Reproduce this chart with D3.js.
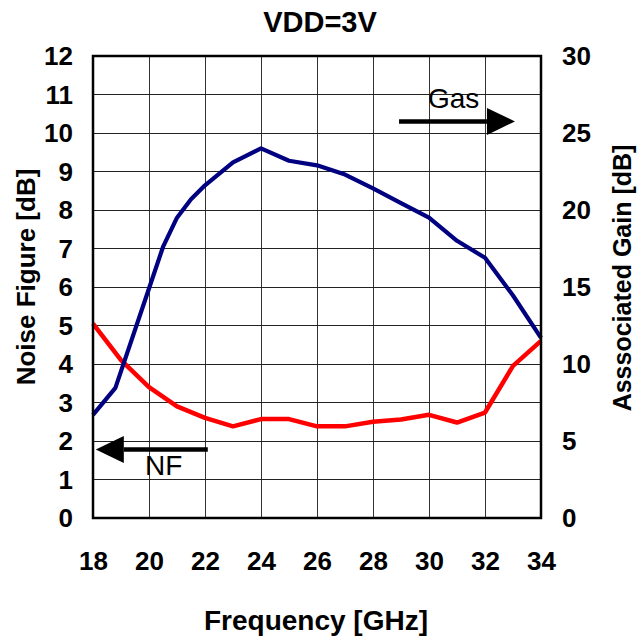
<!DOCTYPE html>
<html>
<head>
<meta charset="utf-8">
<script src="https://cdn.jsdelivr.net/npm/d3@7/dist/d3.min.js"></script>
<style>
  html, body { margin: 0; padding: 0; background: #fff; }
  svg { display: block; font-family: "Liberation Sans", Arial, sans-serif; }
</style>
</head>
<body>
<svg id="chart" width="637" height="641"></svg>
<script>
// ── Data ────────────────────────────────────────────────────────────────
const TITLE = 'VDD=3V';

// Noise figure (left axis, dB)
const NF_FREQ = [18, 19, 20, 21, 22, 23, 24, 25, 26, 27, 28, 29, 30, 31, 32, 33, 34];
const NF_DB   = [5.05, 4.1, 3.4, 2.9, 2.6, 2.38, 2.57, 2.57, 2.38, 2.38, 2.5, 2.56, 2.68, 2.48, 2.74, 3.95, 4.6];

// Associated gain (right axis, dB)
const GA_FREQ = [18, 18.8, 20, 20.5, 21, 21.5, 22, 23, 24, 25, 26, 27, 28, 29, 30, 31, 32, 33, 34];
const GA_DB   = [6.7, 8.45, 14.9, 17.6, 19.5, 20.7, 21.6, 23.1, 24.0, 23.2, 22.9, 22.3, 21.4, 20.45, 19.5, 18.0, 16.9, 14.45, 11.7];

const X_TICKS  = [18, 20, 22, 24, 26, 28, 30, 32, 34];
const YL_TICKS = [0, 1, 2, 3, 4, 5, 6, 7, 8, 9, 10, 11, 12];
const YR_TICKS = [0, 5, 10, 15, 20, 25, 30];

// ── Layout ──────────────────────────────────────────────────────────────
const L = 93, R = 541, T = 56, B = 518;

const svg = d3.select('#chart');

const x  = d3.scaleLinear().domain([18, 34]).range([L, R]);
const yL = d3.scaleLinear().domain([0, 12]).range([B, T]);
const yR = d3.scaleLinear().domain([0, 30]).range([B, T]);

// grid
const grid = svg.append('g').attr('shape-rendering', 'crispEdges');
grid.selectAll('line.v')
  .data(X_TICKS.slice(1, -1))
  .join('line')
  .attr('x1', d => x(d)).attr('x2', d => x(d))
  .attr('y1', T).attr('y2', B)
  .attr('stroke', '#333').attr('stroke-width', 1);
grid.selectAll('line.h')
  .data(YL_TICKS.slice(1, -1))
  .join('line')
  .attr('x1', L).attr('x2', R)
  .attr('y1', d => yL(d)).attr('y2', d => yL(d))
  .attr('stroke', '#222').attr('stroke-width', 1);

// series
const lineNF = d3.line().x((d, i) => x(NF_FREQ[i])).y(d => yL(d));
const lineGA = d3.line().x((d, i) => x(GA_FREQ[i])).y(d => yR(d));

svg.append('path')
  .datum(NF_DB)
  .attr('d', lineNF)
  .attr('fill', 'none')
  .attr('stroke', '#ff0000')
  .attr('stroke-width', 4.5)
  .attr('stroke-linejoin', 'round');

svg.append('path')
  .datum(GA_DB)
  .attr('d', lineGA)
  .attr('fill', 'none')
  .attr('stroke', '#000080')
  .attr('stroke-width', 4.2)
  .attr('stroke-linejoin', 'round');

// frame
svg.append('rect')
  .attr('x', L).attr('y', T)
  .attr('width', R - L).attr('height', B - T)
  .attr('fill', 'none')
  .attr('stroke', '#000')
  .attr('stroke-width', 2.5);

// ── Axes (labels only, grid draws the lines) ────────────────────────────
const axL = svg.append('g')
  .attr('transform', 'translate(' + L + ',0)')
  .call(d3.axisLeft(yL).tickValues(YL_TICKS).tickSize(0).tickPadding(20));
const axR = svg.append('g')
  .attr('transform', 'translate(' + R + ',0)')
  .call(d3.axisRight(yR).tickValues(YR_TICKS).tickSize(0).tickPadding(21));
const axB = svg.append('g')
  .attr('transform', 'translate(0,' + B + ')')
  .call(d3.axisBottom(x).tickValues(X_TICKS).tickSize(0).tickPadding(34));

[axL, axR, axB].forEach(function (g) {
  g.select('.domain').remove();
  g.selectAll('text')
    .attr('font-family', '"Liberation Sans", Arial, sans-serif')
    .attr('font-size', 26)
    .attr('font-weight', 'bold')
    .attr('fill', '#000');
});
axL.selectAll('text').attr('dy', '0.34em');
axR.selectAll('text').attr('dy', '0.34em');

// titles
svg.append('text')
  .attr('x', 320).attr('y', 32)
  .attr('text-anchor', 'middle')
  .attr('font-size', 29).attr('font-weight', 'bold')
  .text(TITLE);

svg.append('text')
  .attr('x', 316).attr('y', 630)
  .attr('text-anchor', 'middle')
  .attr('font-size', 28).attr('font-weight', 'bold')
  .text('Frequency [GHz]');

svg.append('text')
  .attr('transform', 'translate(35,277) rotate(-90)')
  .attr('text-anchor', 'middle')
  .attr('font-size', 26).attr('font-weight', 'bold')
  .text('Noise Figure [dB]');

svg.append('text')
  .attr('transform', 'translate(631,278) rotate(-90)')
  .attr('text-anchor', 'middle')
  .attr('font-size', 25).attr('font-weight', 'bold')
  .text('Asssociated Gain [dB]');

// ── Annotations ─────────────────────────────────────────────────────────
function arrow(x0, x1, xTip, y, label, lx, ly) {
  svg.append('line')
    .attr('x1', x0).attr('x2', x1)
    .attr('y1', y).attr('y2', y)
    .attr('stroke', '#000').attr('stroke-width', 4.5);
  svg.append('path')
    .attr('d', 'M' + x1 + ',' + (y - 13.5) + 'L' + xTip + ',' + y + 'L' + x1 + ',' + (y + 13.5) + 'Z')
    .attr('fill', '#000');
  svg.append('text')
    .attr('x', lx).attr('y', ly)
    .attr('font-size', 28)
    .text(label);
}

arrow(x(28.93), x(32.07), x(33.07), yL(10.3), 'Gas', 428, 108);
arrow(x(22.1), x(19.1), x(18.1), yL(1.78), 'NF', 145, 475);
</script>
</body>
</html>
